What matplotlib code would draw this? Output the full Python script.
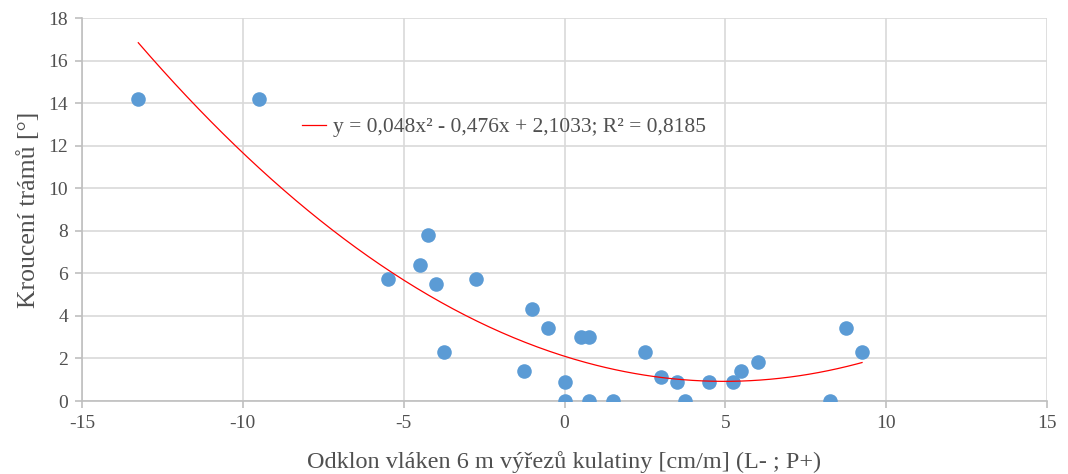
import numpy as np
import matplotlib
matplotlib.use("Agg")
import matplotlib.pyplot as plt

x_vals = [-13.25, -9.5, -5.5, -4.5, -4.25, -4.0, -3.75, -2.75, -1.25, -1.0, -0.5,
          0.0, 0.0, 0.5, 0.75, 0.75, 1.5, 2.5, 3.0, 3.5, 3.75, 4.5, 5.25, 5.5, 6.0,
          8.25, 8.75, 9.25]
y_vals = [14.2, 14.2, 5.73, 6.4, 7.8, 5.5, 2.3, 5.73, 1.4, 4.33, 3.45,
          0.9, 0.0, 3.0, 3.0, 0.0, 0.0, 2.3, 1.15, 0.9, 0.0, 0.9, 0.9, 1.4, 1.85,
          0.0, 3.45, 2.3]
coef = [0.048, -0.476, 2.1033]
x_ticks = [-15, -10, -5, 0, 5, 10, 15]
y_ticks = [0, 2, 4, 6, 8, 10, 12, 14, 16, 18]

plt.rcParams['font.family'] = ['Liberation Serif', 'DejaVu Serif']
plt.rcParams['axes.unicode_minus'] = False

fig = plt.figure(figsize=(10.68, 4.74), dpi=100)
ax = fig.add_axes([82/1068, 1 - 401/474, (1047-82)/1068, (401-18)/474])

ax.scatter(x_vals, y_vals, s=110, color='#5B9BD5', zorder=3, linewidths=0)
xf = np.linspace(min(x_vals), max(x_vals), 300)
yf = np.polyval(coef, xf)
ax.plot(xf, yf, color='#FF0000', lw=0.9, zorder=4,
        label="y = 0,048x² - 0,476x + 2,1033; R² = 0,8185")

ax.set_xlim(-15, 15)
ax.set_ylim(0, 18)
ax.set_xticks(x_ticks)
ax.set_yticks(y_ticks)
ax.grid(True, color='#d9d9d9', lw=1.2, zorder=0)
ax.set_axisbelow(True)
for s in ['top', 'right']:
    ax.spines[s].set_visible(False)
for s in ['left', 'bottom']:
    ax.spines[s].set_color('#bfbfbf')
    ax.spines[s].set_linewidth(1.2)
ax.tick_params(direction='out', length=5, color='#bfbfbf', width=1.2,
               labelsize=14, labelcolor='#505050', pad=5)
ax.set_xlabel("Odklon vláken 6 m výřezů kulatiny [cm/m] (L- ; P+)", fontsize=17.5,
              color='#505050', labelpad=14)
ax.set_ylabel("Kroucení trámů [°]", fontsize=18.5, color='#505050', labelpad=6)

leg = ax.legend(loc='center left', bbox_to_anchor=(0.228, 0.715), frameon=False,
                fontsize=15.5, handlelength=1.1, handletextpad=0.35,
                borderaxespad=0, borderpad=0)
plt.setp(leg.get_texts(), color='#505050')

fig.savefig("out.png", dpi=100)
